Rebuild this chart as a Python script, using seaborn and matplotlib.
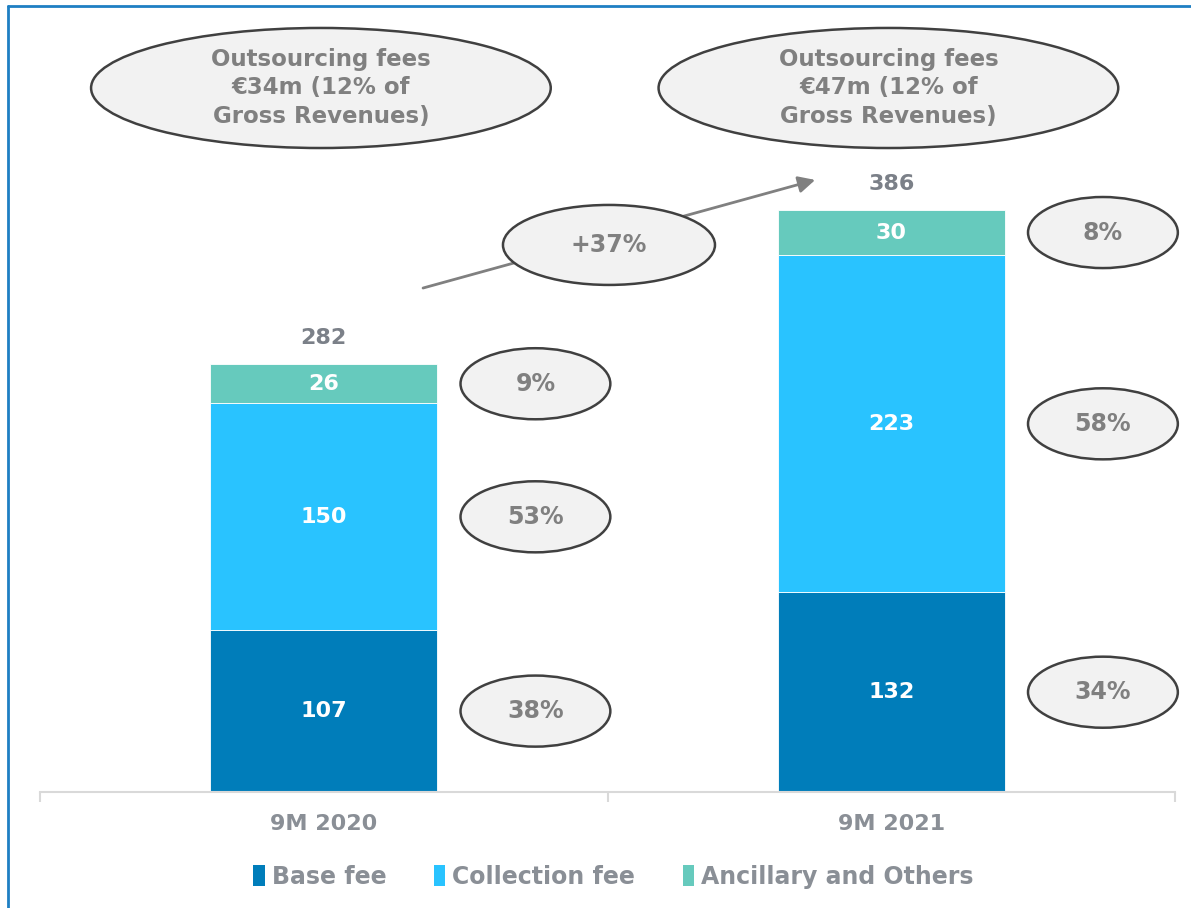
import numpy as np
import matplotlib.pyplot as plt
import seaborn as sns
from matplotlib.patches import Ellipse, Patch
from matplotlib.lines import Line2D

# Chart data
periods = ["9M 2020", "9M 2021"]
base_fee = [107, 132]
collection_fee = [150, 223]
ancillary = [26, 30]
totals = [282, 386]
base_pct = ["38%", "34%"]
collection_pct = ["53%", "58%"]
ancillary_pct = ["9%", "8%"]
headlines = [
    "Outsourcing fees\n€34m (12% of\nGross Revenues)",
    "Outsourcing fees\n€47m (12% of\nGross Revenues)",
]
growth_label = "+37%"
series_names = ["Base fee", "Collection fee", "Ancillary and Others"]
colors = ["#007DBA", "#29C3FF", "#66CABD"]

GREY = "#808080"
SLATE = "#7b8088"
BUBBLE_FACE = "#f2f2f2"
BUBBLE_EDGE = "#404040"

sns.set_style("white")
plt.rcParams["font.family"] = ["DejaVu Sans"]

fig = plt.figure(figsize=(11.91, 9.08), dpi=100)
ax = fig.add_axes([40 / 1191, 1 - 792 / 908, 1135 / 1191, 784 / 908])


def bubble(x, y, w, h, text, size, z=3, spacing=1.2):
    e = Ellipse((x, y), w, h, facecolor=BUBBLE_FACE, edgecolor=BUBBLE_EDGE,
                linewidth=1.8, zorder=z, clip_on=False)
    ax.add_patch(e)
    ax.text(x, y, text, ha="center", va="center", color=GREY,
            fontsize=size, fontweight="bold", zorder=z + 1, linespacing=spacing)


# Stacked bars
series = [base_fee, collection_fee, ancillary]
pcts = [base_pct, collection_pct, ancillary_pct]
bottoms = np.zeros(len(periods))
for vals, col, pct in zip(series, colors, pcts):
    sns.barplot(x=periods, y=vals, bottom=bottoms, color=col, width=0.4,
                saturation=1, edgecolor="white", linewidth=0.6, ax=ax, zorder=2)
    for i, v in enumerate(vals):
        mid = bottoms[i] + v / 2
        ax.text(i, mid, str(v), ha="center", va="center", color="white",
                fontsize=16, fontweight="bold", zorder=4)
        bubble(i + 0.373, mid, 0.264, 47, pct[i], 17)
    bottoms = bottoms + np.array(vals)

# Totals above bars
for i, t in enumerate(totals):
    ax.text(i, bottoms[i] + 17, str(t), ha="center", va="center", color=SLATE,
            fontsize=16, fontweight="bold")

# Headline bubbles
for i, txt in enumerate(headlines):
    bubble(i - 0.005, 465.6, 0.81, 79.4, txt, 16.5, spacing=1.33)

# Growth arrow and bubble
ax.annotate("", xy=(0.866, 404.8), xytext=(0.175, 333.3),
            arrowprops=dict(arrowstyle="-|>", color=GREY, lw=2,
                            mutation_scale=25, shrinkA=0, shrinkB=0),
            zorder=2)
bubble(0.5026, 361.8, 0.3736, 52.9, growth_label, 17)

ax.set_xlim(-0.5, 1.5)
ax.set_ylim(0, 518.5)
ax.set_yticks([])
ax.set_ylabel("")
for s in ["left", "top", "right"]:
    ax.spines[s].set_visible(False)
ax.spines["bottom"].set_color("#d9d9d9")
ax.spines["bottom"].set_linewidth(1.5)
ax.set_xticks([0, 1])
ax.set_xticklabels(periods, color="#8a8f96", fontsize=16, fontweight="bold")
ax.set_xticks([-0.5, 0.5, 1.5], minor=True)
ax.tick_params(axis="x", which="major", bottom=True, length=0, pad=16)
ax.tick_params(axis="x", which="minor", bottom=True, length=7, width=1.5,
               color="#d9d9d9", direction="out")

# Legend
handles = [Patch(facecolor=c, edgecolor="none") for c in colors]
fig.legend(handles, series_names, loc="center", bbox_to_anchor=(0.515, 1 - 877 / 908),
           ncol=3, frameon=False, prop={"size": 17, "weight": "bold"},
           labelcolor="#8a8f96", handlelength=0.5, handleheight=1.0,
           handletextpad=0.3, columnspacing=2.0)

# Blue frame lines (left and top)
frame_col = "#1E7FC3"
fig.add_artist(Line2D([8 / 1191, 8 / 1191], [0, 1 - 6 / 908], color=frame_col, lw=2))
fig.add_artist(Line2D([8 / 1191, 1], [1 - 6 / 908, 1 - 6 / 908], color=frame_col, lw=2))

fig.savefig("out.png", dpi=100)
